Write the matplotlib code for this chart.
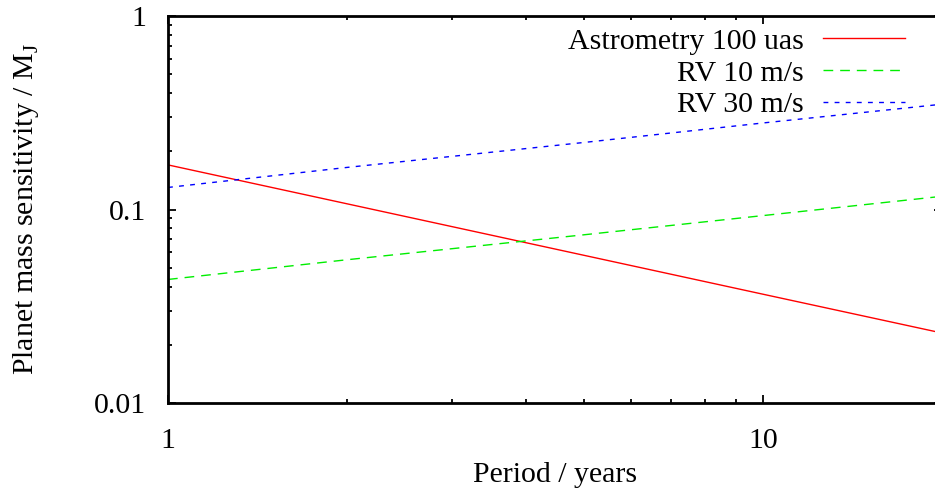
import numpy as np
import matplotlib.pyplot as plt
from matplotlib.ticker import FixedLocator, FixedFormatter, LogLocator, NullFormatter

plt.rcParams['font.family'] = ['Liberation Serif', 'DejaVu Serif']
plt.rcParams['mathtext.fontset'] = 'custom'
plt.rcParams['mathtext.rm'] = 'Liberation Serif'

# values (period in years, mass in M_J)
period = [1, 2, 5, 10, 20]
astrometry_100uas = [0.17, 0.107, 0.058, 0.0365, 0.023]
rv_10ms = [0.0435, 0.055, 0.074, 0.093, 0.117]
rv_30ms = [0.13, 0.165, 0.222, 0.28, 0.35]

FS = 21.5
W, H = 935, 495
fig = plt.figure(figsize=(W / 100, H / 100), dpi=100)
# axes run slightly past the right edge of the picture
ax = fig.add_axes([168 / W, (H - 403) / H, (942 - 168) / W, (403 - 16) / H])

ax.plot(period, astrometry_100uas, color='#ff0000', lw=1.0, label='Astrometry 100 uas')
ax.plot(period, rv_10ms, color='#00ee00', lw=1.0, dashes=(7, 5), label='RV 10 m/s')
ax.plot(period, rv_30ms, color='#0000ff', lw=1.0, dashes=(3.5, 4.5), label='RV 30 m/s')

ax.set_xscale('log')
ax.set_yscale('log')
ax.set_xlim(1, 20)
ax.set_ylim(0.01, 1)

ax.xaxis.set_major_locator(FixedLocator([1, 10]))
ax.xaxis.set_major_formatter(FixedFormatter(['1', '10']))
ax.xaxis.set_minor_locator(LogLocator(base=10, subs=np.arange(2, 10)))
ax.xaxis.set_minor_formatter(NullFormatter())
ax.yaxis.set_major_locator(FixedLocator([0.01, 0.1, 1]))
ax.yaxis.set_major_formatter(FixedFormatter(['0.01', '0.1', '1']))
ax.yaxis.set_minor_locator(LogLocator(base=10, subs=np.arange(2, 10)))
ax.yaxis.set_minor_formatter(NullFormatter())

ax.tick_params(which='both', direction='in', top=True, right=True, width=1.3,
               labelsize=FS, colors='black')
ax.tick_params(which='major', length=6)
ax.tick_params(which='minor', length=3)
ax.tick_params(axis='y', which='major', pad=16)
ax.tick_params(axis='x', which='major', pad=18)
for s in ax.spines.values():
    s.set_linewidth(2)

ax.set_xlabel('Period / years', fontsize=FS, labelpad=6)
ax.set_ylabel(r'Planet mass sensitivity / M$_\mathrm{J}$', fontsize=FS, labelpad=38)

leg = ax.legend(loc='upper right', bbox_to_anchor=(905 / W, 1 - 28 / H),
                bbox_transform=fig.transFigure, frameon=False, markerfirst=False,
                fontsize=FS, handlelength=2.75, handletextpad=0.65,
                labelspacing=0.16, borderpad=0, borderaxespad=0)
for t in leg.get_texts():
    t.set_ha('right')
leg._legend_box.align = 'right'

fig.savefig('out.png', dpi=100)
